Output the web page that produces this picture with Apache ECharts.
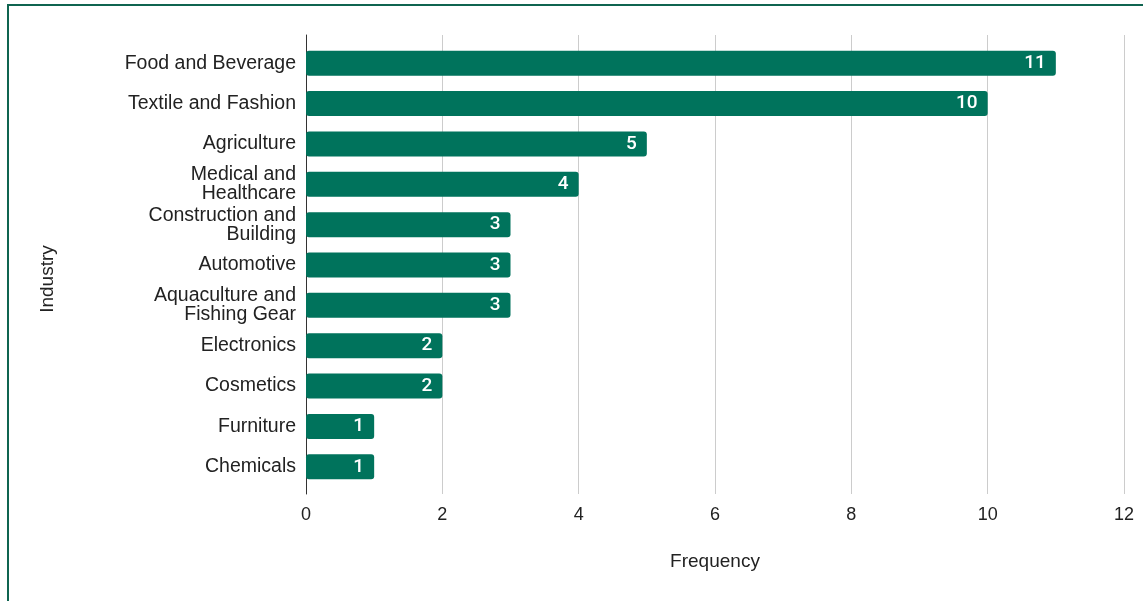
<!DOCTYPE html>
<html>
<head>
<meta charset="utf-8">
<script src="https://cdn.jsdelivr.net/npm/echarts@6/dist/echarts.min.js"></script>
<style>
  html, body { margin: 0; padding: 0; background: #fff; }
  #frame { position: absolute; left: 7px; top: 4px; width: 1200px; height: 700px;
           border-left: 2px solid #0f6450; border-top: 2px solid #0f6450; }
  #main { position: absolute; left: 0; top: 0; width: 1143px; height: 601px; }
</style>
</head>
<body>
<div id="frame"></div>
<div id="main"></div>
<script>
// industries, top to bottom
var industries = [
  'Food and Beverage',
  'Textile and Fashion',
  'Agriculture',
  'Medical and\nHealthcare',
  'Construction and\nBuilding',
  'Automotive',
  'Aquaculture and\nFishing Gear',
  'Electronics',
  'Cosmetics',
  'Furniture',
  'Chemicals'
];
var frequency = [11, 10, 5, 4, 3, 3, 3, 2, 2, 1, 1];
var xTicks = [0, 2, 4, 6, 8, 10, 12];

var labelFont = '"Liberation Sans", Arial, sans-serif';
var barColor = '#00735c';

var chart = echarts.init(document.getElementById('main'));

var option = {
  animation: false,
  grid: [
    // axis frame (lines reach a bit past the bars)
    { left: 306, right: 19, top: 35, bottom: 107 },
    // bars
    { left: 306, right: 19, top: 43, bottom: 114 }
  ],
  xAxis: [
    {
      gridIndex: 0,
      type: 'value',
      min: xTicks[0],
      max: xTicks[xTicks.length - 1],
      interval: 2,
      axisLine: { show: false },
      axisTick: { show: false },
      splitLine: { lineStyle: { color: '#cccccc', width: 1 } },
      axisLabel: { fontFamily: labelFont, fontSize: 18, color: '#222', margin: 12 },
      name: 'Frequency',
      nameLocation: 'middle',
      nameGap: 58,
      nameTextStyle: { fontFamily: labelFont, fontSize: 19, color: '#222' }
    },
    {
      gridIndex: 1,
      type: 'value',
      min: 0,
      max: 12,
      show: false
    }
  ],
  yAxis: [
    {
      gridIndex: 0,
      type: 'value',
      min: 0,
      max: 1,
      axisLine: { show: true, lineStyle: { color: '#333', width: 1 } },
      axisTick: { show: false },
      axisLabel: { show: false },
      splitLine: { show: false }
    },
    {
      gridIndex: 1,
      type: 'category',
      inverse: true,
      data: industries,
      axisLine: { show: false },
      axisTick: { show: false },
      axisLabel: {
        fontFamily: labelFont,
        fontSize: 19.5,
        lineHeight: 19,
        color: '#222',
        margin: 10,
        align: 'right',
        padding: [2, 0, 0, 0]
      }
    }
  ],
  graphic: [
    {
      type: 'text',
      x: 48,
      y: 279,
      rotation: Math.PI / 2,
      style: {
        text: 'Industry',
        fontFamily: labelFont,
        fontSize: 19,
        fill: '#222',
        align: 'center',
        verticalAlign: 'middle'
      }
    }
  ],
  series: [
    {
      type: 'bar',
      xAxisIndex: 1,
      yAxisIndex: 1,
      data: frequency,
      barWidth: 25,
      itemStyle: { color: barColor, borderRadius: 3 },
      label: {
        show: true,
        position: 'insideRight',
        distance: 10,
        color: '#fff',
        fontFamily: 'Roboto, sans-serif',
        fontSize: 19,
        fontWeight: 500,
        padding: [2, 0, 0, 0]
      }
    }
  ]
};

chart.setOption(option);
</script>
</body>
</html>
